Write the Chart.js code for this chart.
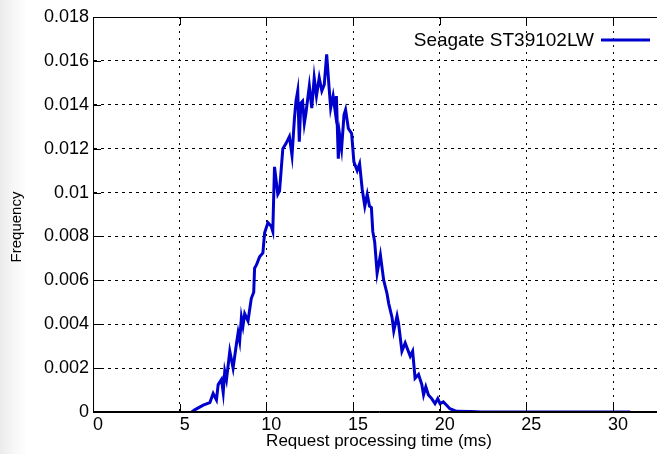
<!DOCTYPE html>
<html>
<head>
<meta charset="utf-8">
<script src="https://cdn.jsdelivr.net/npm/chart.js@4.4.1/dist/chart.umd.min.js"></script>
<style>
  html, body { margin: 0; padding: 0; overflow: hidden; }
  body { width: 657px; height: 454px; background: linear-gradient(to right, #ebebeb 0px, #f7f7f7 14px, #ffffff 28px); }
  #wrap { position: absolute; left: 0; top: 0; width: 680px; height: 454px; }
</style>
</head>
<body>
<div id="wrap"><canvas id="myChart"></canvas></div>
<script>
var seriesName = "Seagate ST39102LW";
var xTitle = "Request processing time (ms)";
var yTitle = "Frequency";

// request processing time (ms)
var times = [5.69, 5.89, 6.36, 6.74, 6.93, 7.12, 7.22, 7.41, 7.51, 7.60, 7.70, 7.89, 8.08, 8.27, 8.37, 8.46,
    8.56, 8.65, 8.75, 8.94, 9.13, 9.27, 9.32, 9.42, 9.61, 9.80, 9.90, 10.09, 10.28, 10.37, 10.47, 10.66,
    10.76, 10.95, 11.13, 11.33, 11.48, 11.62, 11.71, 11.81, 11.90, 11.99, 12.09, 12.19, 12.28, 12.48, 12.62,
    12.76, 12.89, 13.05, 13.20, 13.34, 13.48, 13.62, 13.71, 13.85, 13.97, 14.04, 14.15, 14.23, 14.34, 14.48,
    14.57, 14.73, 14.92, 15.05, 15.24, 15.38, 15.53, 15.68, 15.82, 15.95, 16.06, 16.14, 16.25, 16.39, 16.58,
    16.77, 16.96, 17.06, 17.25, 17.35, 17.54, 17.63, 17.82, 18.01, 18.30, 18.44, 18.58, 18.78, 18.97, 19.07,
    19.20, 19.35, 19.54, 19.73, 19.89, 20.02, 20.21, 20.40, 20.59, 20.97, 21.8, 22.4, 25.0, 28.0, 31.0];

// frequency
var freqs = [0, 0.00011, 0.00031, 0.00043, 0.00084, 0.00055, 0.00125, 0.00148, 0.00089, 0.00185, 0.00148,
    0.00277, 0.00200, 0.00309, 0.00361, 0.00323, 0.00431, 0.00392, 0.00448, 0.00415, 0.00517, 0.00546,
    0.00655, 0.00669, 0.00707, 0.00725, 0.00817, 0.00863, 0.00846, 0.00823, 0.01117, 0.00992, 0.01007,
    0.01200, 0.01223, 0.01255, 0.01169, 0.01338, 0.01417, 0.01463, 0.01232, 0.01408, 0.01417, 0.01315,
    0.01360, 0.01486, 0.01385, 0.01523, 0.01440, 0.01523, 0.01463, 0.01492, 0.01630, 0.01477, 0.01385,
    0.01440, 0.01371, 0.01440, 0.01154, 0.01261, 0.01200, 0.01354, 0.01377, 0.01292, 0.01269, 0.01140,
    0.01100, 0.01131, 0.01015, 0.00938, 0.00992, 0.00938, 0.00932, 0.00823, 0.00775, 0.00632, 0.00715,
    0.00600, 0.00540, 0.00494, 0.00431, 0.00369, 0.00438, 0.00402, 0.00277, 0.00315, 0.00254, 0.00277,
    0.00154, 0.00171, 0.00125, 0.00078, 0.00115, 0.00078, 0.00061, 0.00038, 0.00061, 0.00038, 0.00046,
    0.00031, 0.00015, 0.00003, 0.00002, 0, 0, 0, 0];

var xMin = 0, xMax = 33, xStep = 5;
var yMin = 0, yMax = 0.018, yStep = 0.002;

var lineColor = 'rgb(0,0,205)';
var fontFamily = '"Liberation Sans", Arial, sans-serif';

var points = [];
for (var i = 0; i < times.length; i++) {
    points.push({ x: times[i], y: freqs[i] });
}

// gnuplot style: solid frame, ticks pointing into the plot, key inside, y label
var framePlugin = {
    id: 'frame',
    afterDatasetsDraw: function(chart) {
        var ctx = chart.ctx, a = chart.chartArea;
        var xs = chart.scales.x, ys = chart.scales.y;
        ctx.save();
        ctx.setLineDash([]);
        ctx.strokeStyle = '#000';
        ctx.lineWidth = 1;
        ctx.beginPath();
        ctx.moveTo(a.left + 0.5, a.top);
        ctx.lineTo(a.left + 0.5, a.bottom);
        ctx.moveTo(a.left, a.top + 0.5);
        ctx.lineTo(a.right, a.top + 0.5);
        ctx.moveTo(a.left, a.bottom - 0.5);
        ctx.lineTo(a.right, a.bottom - 0.5);
        xs.ticks.forEach(function(t) {
            var px = Math.round(xs.getPixelForValue(t.value)) + 0.5;
            ctx.moveTo(px, a.bottom); ctx.lineTo(px, a.bottom - 8);
            ctx.moveTo(px, a.top); ctx.lineTo(px, a.top + 8);
        });
        ys.ticks.forEach(function(t) {
            var py = Math.round(ys.getPixelForValue(t.value)) + 0.5;
            ctx.moveTo(a.left, py); ctx.lineTo(a.left + 8, py);
        });
        ctx.stroke();

        // key
        var ds = chart.data.datasets[0];
        ctx.font = '19px ' + fontFamily;
        ctx.fillStyle = '#000';
        ctx.textAlign = 'right';
        ctx.textBaseline = 'middle';
        ctx.fillText(ds.label, 594, 41);
        ctx.strokeStyle = ds.borderColor;
        ctx.lineWidth = 3;
        ctx.beginPath();
        ctx.moveTo(601, 40);
        ctx.lineTo(650, 40);
        ctx.stroke();

        // y axis label
        ctx.translate(17, 227);
        ctx.rotate(-Math.PI / 2);
        ctx.font = '15px ' + fontFamily;
        ctx.textAlign = 'center';
        ctx.fillStyle = '#000';
        ctx.fillText(yTitle, 0, 0);
        ctx.restore();
    }
};

var ctx = document.getElementById('myChart').getContext('2d');
var chart = new Chart(ctx, {
    type: 'line',
    data: {
        datasets: [{
            label: seriesName,
            data: points,
            borderColor: lineColor,
            backgroundColor: lineColor,
            borderWidth: 3,
            pointRadius: 0,
            tension: 0,
            fill: false
        }]
    },
    options: {
        responsive: true,
        maintainAspectRatio: false,
        animation: false,
        layout: { padding: { left: 40, right: 15, top: 17, bottom: 2 } },
        plugins: {
            legend: { display: false },
            tooltip: { enabled: false }
        },
        scales: {
            x: {
                type: 'linear',
                min: xMin,
                max: xMax,
                ticks: {
                    stepSize: xStep,
                    color: '#000',
                    padding: 2,
                    labelOffset: 5,
                    font: { family: fontFamily, size: 18 },
                    callback: function(v) { return v % 5 === 0 ? String(v) : ''; }
                },
                grid: {
                    color: '#000',
                    lineWidth: 1,
                    drawTicks: false
                },
                border: { color: '#000', width: 1, dash: [2, 5] },
                title: {
                    display: true,
                    text: xTitle,
                    color: '#000',
                    padding: { top: -6, bottom: 0 },
                    font: { family: fontFamily, size: 17 }
                }
            },
            y: {
                min: yMin,
                max: yMax,
                ticks: {
                    stepSize: yStep,
                    color: '#000',
                    padding: 4,
                    font: { family: fontFamily, size: 18 },
                    callback: function(v) { return String(+v.toFixed(3)); }
                },
                grid: {
                    color: '#000',
                    lineWidth: 1,
                    drawTicks: false
                },
                border: { color: '#000', width: 1, dash: [3, 4] },
                title: { display: false }
            }
        }
    },
    plugins: [framePlugin]
});
</script>
</body>
</html>
